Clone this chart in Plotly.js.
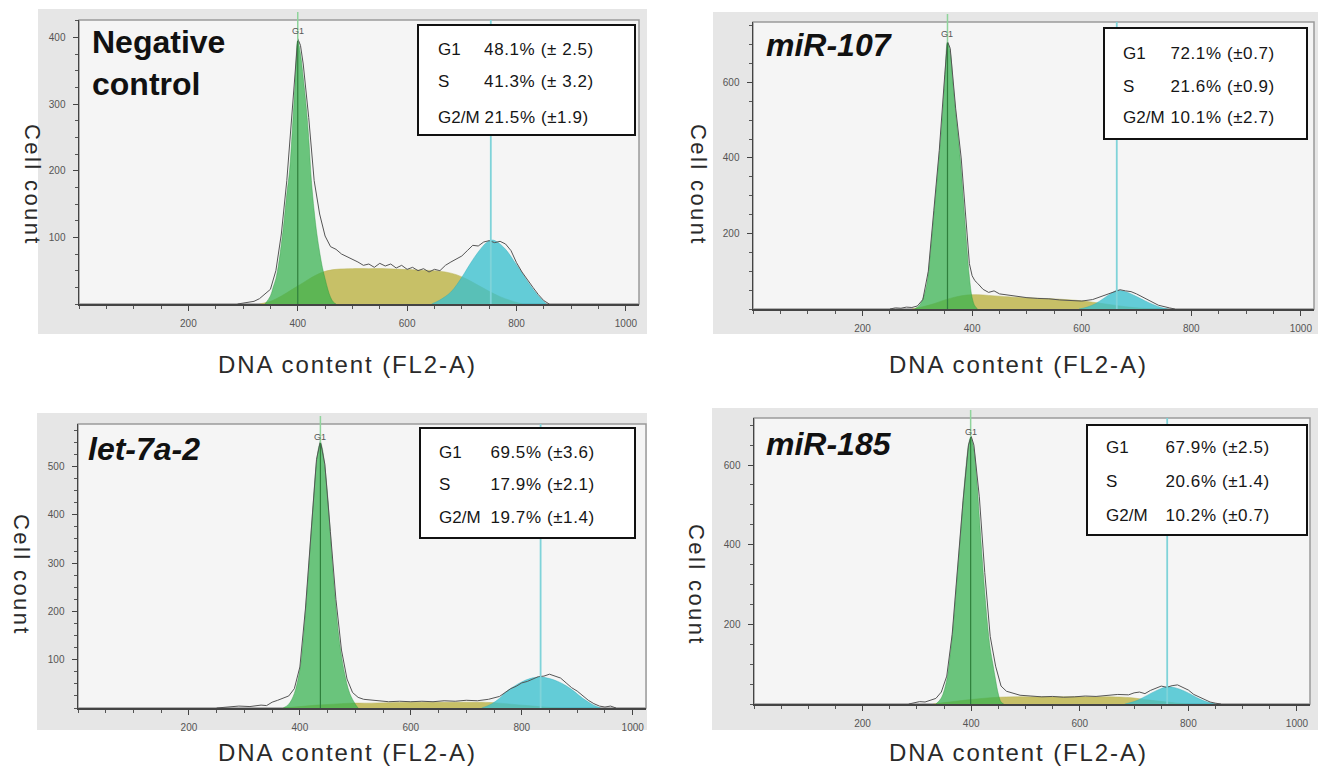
<!DOCTYPE html>
<html><head><meta charset="utf-8">
<script src="https://cdn.plot.ly/plotly-3.0.1.min.js"></script>
<style>html,body{margin:0;padding:0;background:#fff}#chart{width:1318px;height:773px}</style>
</head><body><div id="chart"></div>
<script>
// ---------- DATA ----------
const PHASES = ['G1', 'S', 'G2/M'];
const X_TICKS = [200, 400, 600, 800, 1000];

// Negative control
const NC_G1_X = [340,350,355,360,365,370,375,380,385,390,395,400,405,410,415,420,425,430,435,440,445,450,455,460,465,470];
const NC_G1_Y = [0,12,25,38,60,90,125,165,200,260,330,395,375,340,300,250,185,140,105,78,55,38,22,10,3,0];
const NC_S_X = [330,350,370,390,410,430,450,470,500,530,560,590,620,650,670,690,710,730,750,770,790,810];
const NC_S_Y = [0,4,12,22,32,42,49,52,53,53,53,52,51,50,48,44,37,28,19,11,5,0];
const NC_G2_X = [645,660,680,700,715,730,745,755,765,780,795,810,825,840,855];
const NC_G2_Y = [0,6,18,40,60,78,92,96,93,82,65,47,28,12,0];
const NC_RAW_X = [290,300,310,320,330,340,350,360,370,380,390,395,400,405,410,420,430,440,450,460,470,480,490,500,510,520,530,540,550,560,570,580,590,600,610,620,630,640,650,660,670,680,690,700,710,720,730,740,750,760,770,780,790,800,810,820,830,840,850,860];
const NC_RAW_Y = [0,1,2,4,8,15,22,50,105,185,290,355,398,388,360,280,185,135,102,86,82,75,71,68,63,58,60,55,61,57,60,54,58,52,55,50,53,48,52,50,58,63,68,72,80,88,87,93,95,92,94,90,80,62,48,36,25,14,5,0];
const NC_STATS = ['48.1% (± 2.5)', '41.3% (± 3.2)', '21.5% (±1.9)'];
const NC_YTICKS = [100, 200, 300, 400];

// miR-107
const M107_G1_X = [295,305,315,320,325,330,335,340,345,350,355,360,365,370,375,380,385,390,395,400,405,410];
const M107_G1_Y = [0,12,50,95,170,250,330,410,500,610,706,680,600,520,450,370,270,170,85,30,8,0];
const M107_S_X = [290,310,330,350,370,390,410,430,450,470,500,530,560,590,620,650,680,710,740];
const M107_S_Y = [0,6,14,24,32,37,38,36,34,32,30,28,26,23,18,12,6,2,0];
const M107_G2_X = [595,610,625,640,650,660,665,670,680,690,700,715,730,745,757];
const M107_G2_Y = [0,5,14,28,38,47,50,49,46,40,33,22,12,4,0];
const M107_RAW_X = [250,260,270,280,290,300,310,320,330,340,350,355,360,370,380,385,390,395,400,405,410,420,430,440,450,460,470,480,490,500,520,540,560,580,600,620,640,660,670,680,690,700,720,740,760,770];
const M107_RAW_Y = [0,3,2,5,4,8,25,100,260,420,620,708,690,530,400,300,205,120,88,75,68,52,44,48,40,38,36,34,33,30,28,27,24,23,21,25,35,47,51,48,46,40,24,10,3,0];
const M107_STATS = ['72.1% (±0.7)', '21.6% (±0.9)', '10.1% (±2.7)'];
const M107_YTICKS = [200, 400, 600];

// let-7a-2
const LET7_G1_X = [370,380,390,400,405,410,415,420,425,430,435,437,440,445,450,455,460,465,470,480,490,500,505];
const LET7_G1_Y = [0,8,30,80,130,200,275,360,440,510,545,549,540,500,440,360,280,210,150,75,30,8,0];
const LET7_S_X = [370,400,430,460,490,520,560,600,640,680,720,750,780,810,840,870];
const LET7_S_Y = [0,3,6,8,10,10,11,12,12,12,12,11,8,5,2,0];
const LET7_G2_X = [728,745,760,770,785,800,815,834,850,865,880,895,910,925,942];
const LET7_G2_Y = [0,8,20,32,44,54,61,64,61,55,46,34,20,9,0];
const LET7_RAW_X = [250,270,290,310,330,340,350,360,370,380,390,400,410,420,430,437,445,455,465,475,485,495,505,515,525,540,560,580,600,620,640,660,680,700,720,740,760,770,780,790,800,810,820,830,840,850,860,870,880,890,900,910,920,930,940,950,960,970];
const LET7_RAW_Y = [0,2,4,3,6,5,12,16,20,25,40,85,205,365,515,552,505,365,225,120,60,32,22,18,17,14,13,14,13,14,13,15,14,16,15,18,24,32,40,45,52,55,60,65,66,70,66,62,52,42,35,25,16,9,4,2,4,0];
const LET7_STATS = ['69.5% (±3.6)', '17.9% (±2.1)', '19.7% (±1.4)'];
const LET7_YTICKS = [100, 200, 300, 400, 500];

// miR-185
const M185_G1_X = [335,345,355,360,365,370,375,380,385,390,395,399,405,410,415,420,425,430,435,440,445,450,455,460];
const M185_G1_Y = [0,15,60,110,170,250,335,420,510,590,650,670,640,570,470,370,280,200,140,100,60,25,5,0];
const M185_S_X = [330,360,390,420,450,480,510,550,600,650,680,700,720,740,760,780,800];
const M185_S_Y = [0,5,10,14,17,18,18,18,18,18,17,15,11,8,5,2,0];
const M185_G2_X = [683,700,715,730,745,761,775,790,805,820,835,850];
const M185_G2_Y = [0,6,15,26,36,43,41,34,24,13,5,0];
const M185_RAW_X = [285,295,305,315,325,335,345,355,365,375,385,395,400,405,415,425,435,445,455,465,475,490,510,530,550,570,590,610,630,650,670,690,700,710,720,730,740,750,760,770,780,790,800,810,820,830,840,850,860];
const M185_RAW_Y = [0,3,6,5,9,14,30,70,175,340,510,650,672,650,520,330,170,95,45,32,28,22,20,18,19,17,18,20,19,22,24,23,28,30,26,34,40,45,42,46,48,42,35,24,18,10,5,2,0];
const M185_STATS = ['67.9% (±2.5)', '20.6% (±1.4)', '10.2% (±0.7)'];
const M185_YTICKS = [200, 400, 600];

// ---------- LAYOUT / STYLE ----------
const W = 1318, H = 773;
const PANELS = [
  {title:'<b>Negative</b><br><b>control</b>', g1x:NC_G1_X, g1y:NC_G1_Y, sx:NC_S_X, sy:NC_S_Y, g2x:NC_G2_X, g2y:NC_G2_Y, rx:NC_RAW_X, ry:NC_RAW_Y,
   stats:NC_STATS, ytv:NC_YTICKS, ymax:426, yminor:25, g1:400, g1peak:395, g2:753,
   plot:[79,20,639,304], bg:[38,9,647,334], tpos:[90,22], box:[418,25,635,135], rows:[50,82,117], labx:436, valx:486,
   xt:[347,364], yt:[32,185], g1lab:31},
  {title:'<b><i>miR-107</i></b>', g1x:M107_G1_X, g1y:M107_G1_Y, sx:M107_S_X, sy:M107_S_Y, g2x:M107_G2_X, g2y:M107_G2_Y, rx:M107_RAW_X, ry:M107_RAW_Y,
   stats:M107_STATS, ytv:M107_YTICKS, ymax:760, yminor:50, g1:355, g1peak:706, g2:664,
   plot:[753,22,1314,309], bg:[713,12,1318,334], tpos:[764,25], box:[1104,28,1307,139], rows:[53,86,117], labx:1121, valx:1172,
   xt:[1018,364], yt:[698,185], g1lab:34},
  {title:'<b><i>let-7a-2</i></b>', g1x:LET7_G1_X, g1y:LET7_G1_Y, sx:LET7_S_X, sy:LET7_S_Y, g2x:LET7_G2_X, g2y:LET7_G2_Y, rx:LET7_RAW_X, ry:LET7_RAW_Y,
   stats:LET7_STATS, ytv:LET7_YTICKS, ymax:588, yminor:25, g1:437, g1peak:549, g2:834,
   plot:[78,424,646,708], bg:[37,413,647,730], tpos:[86,429], box:[420,428,635,538], rows:[452,484,517], labx:437, valx:492,
   xt:[347,752], yt:[22,575], g1lab:437},
  {title:'<b><i>miR-185</i></b>', g1x:M185_G1_X, g1y:M185_G1_Y, sx:M185_S_X, sy:M185_S_Y, g2x:M185_G2_X, g2y:M185_G2_Y, rx:M185_RAW_X, ry:M185_RAW_Y,
   stats:M185_STATS, ytv:M185_YTICKS, ymax:718, yminor:50, g1:399, g1peak:670, g2:761,
   plot:[754,418,1310,704], bg:[712,408,1318,730], tpos:[764,424], box:[1087,425,1307,535], rows:[448,481,515], labx:1104, valx:1167,
   xt:[1018,752], yt:[697,585], g1lab:432}
];

const FONT = 'Arial, "Liberation Sans", sans-serif';
const S_FILL = '#c7c067', G1_FILL = 'rgba(52,178,78,0.72)', G2_FILL = 'rgba(58,192,206,0.78)';
const traces = [], shapes = [], ann = [];
const layout = {width:W, height:H, margin:{l:0,r:0,t:0,b:0}, paper_bgcolor:'#ffffff', plot_bgcolor:'rgba(0,0,0,0)',
  showlegend:false, font:{family:FONT}};
const px = v => v / W, py = v => 1 - v / H;

PANELS.forEach((p, i) => {
  const n = i + 1, sfx = n === 1 ? '' : String(n);
  const xa = 'x' + sfx, ya = 'y' + sfx;
  layout['xaxis' + sfx] = {domain:[px(p.plot[0]), px(p.plot[2])], range:[0,1024], anchor:ya, tickvals:X_TICKS,
    ticks:'outside', ticklen:5, tickwidth:1, tickcolor:'#444', tickfont:{size:10, color:'#555', family:FONT},
    ticklabelstandoff:4,
    minor:{dtick:50, tick0:0, ticks:'outside', ticklen:3, tickcolor:'#555', showgrid:false},
    showgrid:false, zeroline:false, showline:true, linecolor:'#444', linewidth:1.5, fixedrange:true};
  layout['yaxis' + sfx] = {domain:[py(p.plot[3]), py(p.plot[1])], range:[0,p.ymax], anchor:xa, tickvals:p.ytv,
    ticks:'outside', ticklen:5, tickwidth:1, tickcolor:'#444', tickfont:{size:10, color:'#555', family:FONT},
    ticklabelstandoff:5,
    minor:{dtick:p.yminor, tick0:0, ticks:'outside', ticklen:3, tickcolor:'#555', showgrid:false},
    showgrid:false, zeroline:false, showline:true, linecolor:'#444', linewidth:1.5, fixedrange:true};

  // background panels
  shapes.push({type:'rect', xref:'paper', yref:'paper', layer:'below', x0:px(p.bg[0]), x1:px(p.bg[2]), y0:py(p.bg[3]), y1:py(p.bg[1]),
    fillcolor:'#e6e6e6', line:{width:0}});
  shapes.push({type:'rect', xref:'paper', yref:'paper', layer:'below', x0:px(p.plot[0]), x1:px(p.plot[2]), y0:py(p.plot[3]), y1:py(p.plot[1]),
    fillcolor:'#f5f5f5', line:{color:'#9a9a9a', width:1.5}});

  traces.push({type:'scatter', mode:'lines', x:p.sx, y:p.sy, xaxis:xa, yaxis:ya, fill:'tozeroy', fillcolor:S_FILL,
    line:{color:'#b9b257', width:0.5, shape:'spline'}, hoverinfo:'skip'});
  traces.push({type:'scatter', mode:'lines', x:p.g1x, y:p.g1y, xaxis:xa, yaxis:ya, fill:'tozeroy', fillcolor:G1_FILL,
    line:{color:'rgba(40,150,60,0.8)', width:0.5, shape:'spline'}, hoverinfo:'skip'});
  traces.push({type:'scatter', mode:'lines', x:p.g2x, y:p.g2y, xaxis:xa, yaxis:ya, fill:'tozeroy', fillcolor:G2_FILL,
    line:{color:'rgba(40,170,185,0.8)', width:0.5, shape:'spline'}, hoverinfo:'skip'});
  traces.push({type:'scatter', mode:'lines', x:p.rx, y:p.ry, xaxis:xa, yaxis:ya,
    line:{color:'#555555', width:1}, hoverinfo:'skip'});

  // marker lines
  shapes.push({type:'line', xref:xa, yref:ya, x0:p.g1, x1:p.g1, y0:0, y1:p.g1peak, line:{color:'#2f7f3c', width:1.2}});
  shapes.push({type:'line', xref:xa, yref:'paper', x0:p.g1, x1:p.g1, y0:py(p.plot[3]) + (p.g1peak / p.ymax) * (py(p.plot[1]) - py(p.plot[3])), y1:py(p.plot[1] - 8),
    line:{color:'#8fd49b', width:1.5}});
  shapes.push({type:'line', xref:xa, yref:'paper', x0:p.g2, x1:p.g2, y0:py(p.plot[3]), y1:py(p.plot[1]),
    line:{color:'#7fd3d9', width:1.8}});
  // stats box
  shapes.push({type:'rect', xref:'paper', yref:'paper', x0:px(p.box[0]), x1:px(p.box[2]), y0:py(p.box[3]), y1:py(p.box[1]),
    fillcolor:'#ffffff', line:{color:'#111', width:2}});

  ann.push({xref:xa, yref:'paper', x:p.g1, y:py(p.g1lab), text:'G1', showarrow:false, font:{size:9, color:'#555', family:FONT}, yanchor:'middle'});
  ann.push({xref:'paper', yref:'paper', x:px(p.tpos[0]), y:py(p.tpos[1]), text:p.title, showarrow:false, xanchor:'left', yanchor:'top',
    align:'left', font:{size:32, color:'#111', family:FONT}});
  PHASES.forEach((ph, k) => {
    ann.push({xref:'paper', yref:'paper', x:px(p.labx), y:py(p.rows[k]), text:ph, showarrow:false, xanchor:'left', yanchor:'middle',
      font:{size:17, color:'#161616', family:FONT}});
    ann.push({xref:'paper', yref:'paper', x:px(p.valx), y:py(p.rows[k]), text:p.stats[k], showarrow:false, xanchor:'left', yanchor:'middle',
      font:{size:17, color:'#161616', family:FONT}});
  });
  ann.push({xref:'paper', yref:'paper', x:px(p.xt[0]), y:py(p.xt[1]), text:'DNA content (FL2-A)', showarrow:false, xanchor:'center', yanchor:'middle',
    font:{size:24, color:'#2a2a2a', family:FONT}});
  ann.push({xref:'paper', yref:'paper', x:px(p.yt[0]), y:py(p.yt[1]), text:'Cell count', showarrow:false, xanchor:'center', yanchor:'middle',
    textangle:90, font:{size:22, color:'#2a2a2a', family:FONT}});
});
layout.shapes = shapes;
layout.annotations = ann;

Plotly.newPlot('chart', traces, layout, {displayModeBar:false, staticPlot:true}).then(() => {
  document.querySelectorAll('.annotation-text').forEach(t => {
    const s = t.textContent;
    if (s.indexOf('DNA') === 0) t.style.letterSpacing = '1.9px';
    else if (s === 'Cell count') t.style.letterSpacing = '2.4px';
    else if (s.indexOf('%') > 0) t.style.letterSpacing = '0.6px';
  });
});
</script>
</body></html>
